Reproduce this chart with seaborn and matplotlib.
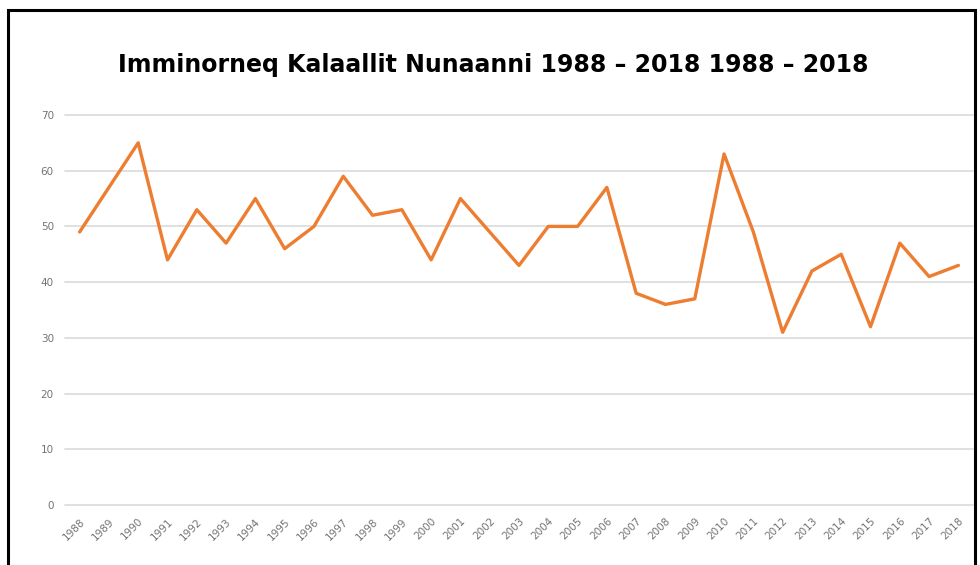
import matplotlib
matplotlib.use("Agg")
import matplotlib.pyplot as plt
import seaborn as sns
import pandas as pd
from matplotlib.patches import Rectangle

years = [str(y) for y in range(1988, 2019)]
values = [49, 57, 65, 44, 53, 47, 55, 46, 50, 59, 52, 53, 44, 55, 49, 43,
          50, 50, 57, 38, 36, 37, 63, 49, 31, 42, 45, 32, 47, 41, 43]
yticks = [0, 10, 20, 30, 40, 50, 60, 70]
title = "Imminorneq Kalaallit Nunaanni 1988 \u2013 2018 1988 \u2013 2018"

df = pd.DataFrame({"year": years, "value": values})

sns.set_theme(style="white")
plt.rcParams['font.family'] = ['DejaVu Sans']

fig = plt.figure(figsize=(9.8, 5.65), dpi=100)
ax = fig.add_axes([0.0663, 0.1062, 0.9266, 0.6903])

sns.lineplot(data=df, x="year", y="value", ax=ax, color="#ED7D31",
             linewidth=2.4, sort=False)

ax.set_xlim(-0.5, len(years) - 0.5)
ax.set_ylim(0, 70)
ax.set_yticks(yticks)
ax.set_yticklabels([str(t) for t in yticks], fontsize=7.5, color="#737373")
ax.set_xticks(range(len(years)))
ax.set_xticklabels(years, rotation=45, ha="right", rotation_mode="anchor",
                   fontsize=7.5, color="#737373")
ax.tick_params(axis="both", length=0, pad=8)
ax.tick_params(axis="x", pad=8)
ax.set_xlabel("")
ax.set_ylabel("")
for s in ax.spines.values():
    s.set_visible(False)
ax.yaxis.grid(True, color="#e0e0e0", linewidth=1.4)
for gl in ax.get_ygridlines():
    gl.set_clip_on(False)
ax.set_axisbelow(True)

fig.text(0.503, 0.885, title, ha="center", va="center", fontsize=17,
         fontweight="bold", color="black")

# black frame (bottom edge outside the image)
rect = Rectangle((8 / 980, -0.05), (975 - 8) / 980, 1 - 10 / 565 + 0.05,
                 transform=fig.transFigure, fill=False, edgecolor="black",
                 linewidth=2.2, clip_on=False)
fig.patches.append(rect)

fig.savefig("out.png", dpi=100)
